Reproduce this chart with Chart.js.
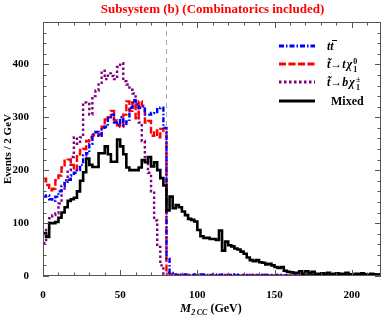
<!DOCTYPE html>
<html>
<head>
<meta charset="utf-8">
<script src="https://cdn.jsdelivr.net/npm/chart.js@4.4.0/dist/chart.umd.min.js"></script>
<style>
  html, body { margin: 0; padding: 0; background: #fff; }
  #wrap { position: relative; width: 382px; height: 315px; font-family: "Liberation Serif", "DejaVu Serif", serif; }
  #chart { position: absolute; left: 0; top: 0; }
  .txt { position: absolute; white-space: nowrap; line-height: 1; }
  #title { left: 0; width: 425px; top: 2px; text-align: center; color: #ff0000; font-weight: bold; font-size: 13px; }
  #xtitle { left: 180px; top: 302px; font-weight: bold; font-size: 12px; }
  #xtitle i { font-size: 12.5px; }
  #xtitle sub { font-size: 8px; font-style: italic; vertical-align: -3px; }
  .leg { left: 327px; font-weight: bold; font-size: 12px; height: 14px; }
  .leg i { font-style: italic; }
  .ss { position: relative; display: inline-block; width: 7px; height: 12px; vertical-align: top; margin-left: 1px; }
  .ss span { position: absolute; left: 0; font-size: 8px; line-height: 1; }
  .ss .up { top: 0px; }
  .ss .dn { top: 8px; }
  .ov { position: relative; display: inline-block; }
  .ov::after { content: ""; position: absolute; left: 1.5px; width: 5px; top: 0px; border-top: 1.2px solid #000; }
  #legsvg { position: absolute; left: 0; top: 0; }
</style>
</head>
<body>
<div id="wrap">
  <canvas id="chart" width="382" height="315"></canvas>
  <div id="title" class="txt">Subsystem (b) (Combinatorics included)</div>
  <svg id="legsvg" width="382" height="315"></svg>
  <div class="txt leg" style="top:40px"><i>t</i><i class="ov">t</i></div>
  <div class="txt leg" style="top:58px"><i>t&#771;</i>&#8594;<i>t&#8202;&#967;</i><span class="ss"><span class="up">0</span><span class="dn">1</span></span></div>
  <div class="txt leg" style="top:76px"><i>t&#771;</i>&#8594;<i>b&#8202;&#967;</i><span class="ss"><span class="up">&#177;</span><span class="dn">1</span></span></div>
  <div class="txt leg" style="top:95px; left:331px">Mixed</div>
  <div id="xtitle" class="txt"><i>M</i><sub>2&#8201;CC</sub> (GeV)</div>
</div>
<script>
// histogram bins: 2 GeV wide, starting at 0
const binWidth = 2;
const xMax = 219;
const yMax = 480;
const cutMass = 80;

const xTicks = [0, 50, 100, 150, 200];
const yTicks = [0, 100, 200, 300, 400];

// t tbar
const ttbar = [
  150, 152, 145, 142, 150, 160, 170, 178, 182, 190,
  195, 200, 210, 228, 232, 250, 268, 272, 265, 280,
  282, 298, 305, 290, 285, 300, 285, 292, 318, 332,
  325, 318, 320, 305, 305, 308, 310, 315, 318, 280,
  32, 6, 3, 2, 3, 2, 3, 2, 1, 3,
  2, 3, 2, 2, 1, 3, 2, 2, 3, 1,
  2, 2, 3, 1, 2, 2, 1, 2, 2, 1,
  2, 1, 2, 2, 1, 1, 2, 1, 1, 2,
  1, 1, 2, 1, 1, 1, 0, 1, 1, 1,
  1, 0, 1, 1, 0, 1, 1, 0, 1, 0,
  1, 0, 0, 1, 0, 1, 0, 0, 1, 0
];

// stop -> t chi0
const stopTop = [
  184, 172, 162, 165, 181, 190, 205, 218, 220, 210,
  200, 230, 238, 240, 255, 262, 266, 265, 268, 282,
  296, 300, 312, 294, 285, 282, 305, 330, 312, 328,
  298, 330, 322, 290, 293, 265, 275, 262, 278, 272,
  6, 3, 2, 2, 1, 2, 2, 1, 2, 1,
  2, 1, 2, 2, 1, 2, 1, 2, 1, 2,
  1, 2, 1, 1, 2, 1, 1, 2, 1, 1,
  1, 2, 1, 1, 1, 2, 1, 1, 1, 1,
  1, 1, 0, 1, 1, 1, 0, 1, 1, 0,
  1, 0, 1, 0, 1, 0, 1, 0, 0, 1,
  0, 1, 0, 0, 1, 0, 0, 1, 0, 0
];

// stop -> b chi+-
const stopBottom = [
  62, 87, 109, 115, 118, 137, 162, 181, 200, 225,
  262, 250, 262, 328, 325, 305, 340, 350, 365, 388,
  372, 383, 378, 372, 395, 402, 368, 362, 352, 345,
  320, 290, 255, 225, 195, 160, 105, 55, 20, 3,
  0, 0, 0, 0, 0, 0, 0, 0, 0, 0,
  0, 0, 0, 0, 0, 0, 0, 0, 0, 0,
  0, 0, 0, 0, 0, 0, 0, 0, 0, 0,
  0, 0, 0, 0, 0, 0, 0, 0, 0, 0,
  0, 0, 0, 0, 0, 0, 0, 0, 0, 0,
  0, 0, 0, 0, 0, 0, 0, 0, 0, 0,
  0, 0, 0, 0, 0, 0, 0, 0, 0, 0
];

// mixed
const mixed = [
  81, 74, 100, 100, 102, 110, 120, 130, 142, 145,
  148, 160, 180, 196, 222, 210, 206, 206, 232, 232,
  245, 230, 216, 216, 258, 245, 230, 205, 200, 200,
  200, 205, 219, 215, 225, 207, 215, 200, 185, 171,
  124, 150, 128, 134, 130, 122, 115, 108, 106, 103,
  87, 75, 72, 72, 70, 70, 68, 86, 48, 65,
  58, 56, 52, 50, 46, 42, 35, 30, 28, 30,
  26, 25, 22, 23, 20, 17, 15, 17, 10, 8,
  7, 6, 6, 9, 4, 9, 5, 8, 4, 3,
  5, 4, 6, 3, 4, 5, 3, 4, 6, 3,
  2, 4, 3, 5, 3, 2, 4, 3, 2, 3
];

const series = [
  { values: ttbar, color: 'rgb(0, 0, 255)', dash: [5, 2, 1.5, 2], width: 2.4, order: 2 },
  { values: stopTop, color: 'rgb(255, 0, 0)', dash: [7, 2.5], width: 2.4, order: 3 },
  { values: stopBottom, color: 'rgb(128, 0, 128)', dash: [2.5, 2.5], width: 2.4, order: 4 },
  { values: mixed, color: '#000', dash: [], width: 2.6, order: 1 }
];

// left bin edges + closing edge, drawn as steps
function toSteps(values) {
  const pts = values.map((v, i) => ({ x: i * binWidth, y: v }));
  pts.push({ x: values.length * binWidth, y: values[values.length - 1] });
  return pts;
}

const serif = '"Liberation Serif", "DejaVu Serif", serif';

// frame with inward ticks on all four sides, plus the dashed cut line
const frameTicks = {
  id: 'frameTicks',
  beforeDatasetsDraw(chart) {
    const { ctx, chartArea: a, scales: { x } } = chart;
    const px = Math.round(x.getPixelForValue(cutMass)) + 0.5;
    ctx.save();
    ctx.strokeStyle = '#aaa';
    ctx.lineWidth = 1;
    ctx.setLineDash([5, 4]);
    ctx.beginPath();
    ctx.moveTo(px, a.top);
    ctx.lineTo(px, a.bottom);
    ctx.stroke();
    ctx.restore();
  },
  afterDatasetsDraw(chart) {
    const { ctx, chartArea: a, scales: { x, y } } = chart;
    ctx.save();
    ctx.strokeStyle = '#555';
    ctx.lineWidth = 1;
    ctx.beginPath();
    for (let v = 0; v <= xMax; v += 10) {
      const px = Math.round(x.getPixelForValue(v)) + 0.5;
      const len = v % 50 === 0 ? 6 : 3.5;
      ctx.moveTo(px, a.bottom); ctx.lineTo(px, a.bottom - len);
      ctx.moveTo(px, a.top); ctx.lineTo(px, a.top + len);
    }
    for (let v = 0; v <= yMax; v += 20) {
      const py = Math.round(y.getPixelForValue(v)) + 0.5;
      const len = v % 100 === 0 ? 6 : 3.5;
      ctx.moveTo(a.left, py); ctx.lineTo(a.left + len, py);
      ctx.moveTo(a.right, py); ctx.lineTo(a.right - len, py);
    }
    ctx.stroke();
    ctx.strokeRect(Math.round(a.left) + 0.5, Math.round(a.top) + 0.5,
      Math.round(a.right - a.left) - 1, Math.round(a.bottom - a.top) - 1);
    ctx.restore();

    // legend samples
    const svg = document.getElementById('legsvg');
    const rows = [46, 64, 82, 101];
    svg.innerHTML = series.map((s, i) =>
      `<line x1="279" x2="315" y1="${rows[i]}" y2="${rows[i]}" stroke="${s.color}" stroke-width="${s.width + 0.4}"` +
      (s.dash.length ? ` stroke-dasharray="${s.dash.join(' ')}"` : '') + '/>'
    ).join('');
  }
};

new Chart(document.getElementById('chart'), {
  type: 'line',
  data: {
    datasets: series.map(s => ({
      data: toSteps(s.values),
      borderColor: s.color,
      borderWidth: s.width,
      borderDash: s.dash,
      stepped: 'before',
      pointRadius: 0,
      fill: false,
      order: s.order
    }))
  },
  options: {
    responsive: false,
    animation: false,
    devicePixelRatio: 1,
    layout: { padding: { top: 22, right: 1, left: 0, bottom: 0 } },
    plugins: {
      legend: { display: false },
      tooltip: { enabled: false }
    },
    scales: {
      x: {
        type: 'linear',
        min: 0,
        max: xMax,
        afterFit: s => { s.height = 39; },
        afterBuildTicks: s => { s.ticks = xTicks.map(v => ({ value: v })); },
        ticks: {
          padding: 5,
          maxRotation: 0,
          autoSkip: false,
          color: '#000',
          font: { family: serif, size: 11, weight: 'bold' }
        },
        grid: { display: false },
        border: { display: false }
      },
      y: {
        min: 0,
        max: yMax,
        afterFit: s => { s.width = 43; },
        afterBuildTicks: s => { s.ticks = yTicks.map(v => ({ value: v })); },
        title: {
          display: true,
          text: 'Events / 2 GeV',
          color: '#000',
          padding: { top: 2, bottom: 0 },
          font: { family: serif, size: 11, weight: 'bold' }
        },
        ticks: {
          padding: 6,
          color: '#000',
          font: { family: serif, size: 11, weight: 'bold' }
        },
        grid: { display: false },
        border: { display: false }
      }
    }
  },
  plugins: [frameTicks]
});
</script>
</body>
</html>
